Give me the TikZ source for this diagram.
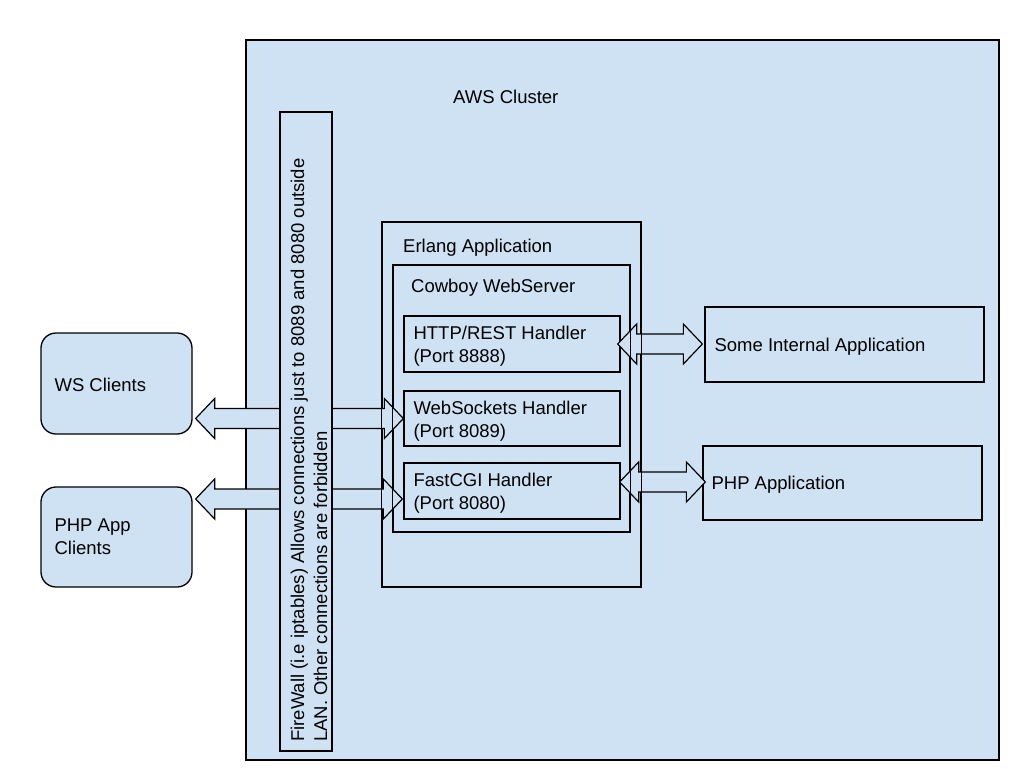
\documentclass[tikz,border=0pt]{standalone}
\usepackage{fontspec}
\setmainfont{Liberation Sans}
\usetikzlibrary{calc}
\definecolor{boxblue}{RGB}{207,226,243}
\newcommand{\dblarrow}[2]{%
  \draw[arr] let \p1=#1, \p2=#2 in
    (\x1,\y1) -- ++(19pt,20pt) -- ++(0pt,-10pt) -- (\x2-19pt,\y1+10pt)
    -- ++(0pt,10pt) -- (\x2,\y1) -- (\x2-19pt,\y1-20pt) -- ++(0pt,10pt)
    -- (\x1+19pt,\y1-10pt) -- ++(0pt,-10pt) -- cycle;}
\begin{document}
\begin{tikzpicture}[x=1pt,y=-1pt,
  box/.style={draw=black, line width=1.3pt, fill=boxblue, rectangle, inner sep=0pt},
  roundbox/.style={box, rounded corners=15pt},
  lbl/.style={anchor=west, inner sep=0pt, align=left, font=\fontsize{18.5}{23}\selectfont},
  arr/.style={draw=black, line width=1.2pt, fill=boxblue, line join=miter}]
\useasboundingbox (0,0) rectangle (1024,768);
% containers
\node[box, minimum width=753pt, minimum height=720pt] (aws) at (622.5,400) {};
\node[box, minimum width=259pt, minimum height=365pt] (erl) at (511.5,404.5) {};
\node[box, minimum width=237pt, minimum height=267pt] (cow) at (511.5,398.5) {};
% handlers
\node[box, minimum width=216pt, minimum height=56pt] (http) at (512,344) {};
\node[box, minimum width=216pt, minimum height=55pt] (wsh) at (512,418.5) {};
\node[box, minimum width=216pt, minimum height=56pt] (fcgi) at (512,491) {};
% applications
\node[box, minimum width=279pt, minimum height=75pt] (someint) at (844.5,344.5) {};
\node[box, minimum width=279pt, minimum height=74pt] (phpapp) at (842.5,483) {};
% clients
\node[roundbox, minimum width=151pt, minimum height=101pt] (ws) at (116.5,383.5) {};
\node[roundbox, minimum width=151pt, minimum height=100pt] (phpc) at (116.5,537) {};
% arrows
\dblarrow{($(wsh.west -| ws.east)+(3,0)$)}{(wsh.west)}
\dblarrow{($(fcgi.west -| phpc.east)+(3,8)$)}{($(fcgi.west)+(-1,8)$)}
\dblarrow{($(http.east)+(-3,0)$)}{($(http.east -| someint.west)+(-2,0)$)}
\dblarrow{($(phpapp.west -| fcgi.east)+(-1,-1)$)}{($(phpapp.west)+(3,-1)$)}
% re-stroke container borders
\draw[line width=1.3pt] (erl.north west) rectangle (erl.south east);
\draw[line width=1.3pt] (cow.north west) rectangle (cow.south east);
% firewall
\node[box, minimum width=52pt, minimum height=639pt] (fw) at (306,431.5) {};
\node[lbl, rotate=90] (fwtext) at (309,742) {FireWall (i.e iptables) Allows connections just to 8089 and 8080 outside\\LAN. Other connections are forbidden};
% texts
\node[lbl] (awst) at (453,97) {AWS Cluster};
\node[lbl] (erlt) at (403,247.5) {Erlang Application};
\node[lbl] (cowt) at (411,287.5) {Cowboy WebServer};
\node[lbl] (httpt) at ($(http.west)+(10,2.5)$) {HTTP/REST Handler\\(Port 8888)};
\node[lbl] (wsht) at ($(wsh.west)+(10,2.5)$) {WebSockets Handler\\(Port 8089)};
\node[lbl] (fcgit) at ($(fcgi.west)+(10,2.5)$) {FastCGI Handler\\(Port 8080)};
\node[lbl] (someintt) at ($(someint.west)+(10,2.5)$) {Some Internal Application};
\node[lbl] (phpappt) at ($(phpapp.west)+(9,2)$) {PHP Application};
\node[lbl] (wst) at ($(ws.west)+(14,1.5)$) {WS Clients};
\node[lbl] (phpct) at ($(phpc.west)+(14,0)$) {PHP App\\Clients};
\end{tikzpicture}
\end{document}
